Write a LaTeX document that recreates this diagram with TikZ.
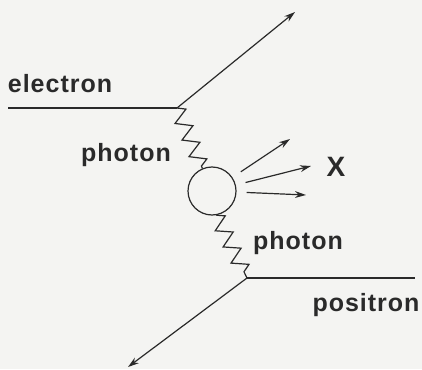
\documentclass[tikz,border=0pt]{standalone}
\usepackage{fontspec}
\setmainfont{Liberation Sans}[LetterSpace=4]
\usetikzlibrary{arrows.meta,decorations.pathmorphing}
\definecolor{ink}{HTML}{2A2A2A}
\definecolor{paper}{HTML}{F4F4F2}

\begin{document}
\begin{tikzpicture}[x=0.5pt,y=-0.5pt,line width=0.6pt,draw=ink,
    lbl/.style={text=ink,font=\bfseries\fontsize{12.5}{14}\selectfont,inner sep=0pt},
    blob/.style={draw=ink,circle,minimum size=24pt,inner sep=0pt},
    photon/.style={decorate,decoration={zigzag,segment length=9pt,amplitude=3.9pt}},
    tip/.style={-{Stealth[length=5.5pt,width=3.4pt]}}]
      \fill[paper] (0,0) rectangle (422,369);
      \coordinate (ein) at (8,108);
      \coordinate (v1) at (177,108);
      \coordinate (eout) at (295,12);
      \coordinate (v2) at (247,278);
      \coordinate (pin) at (415,278);
      \coordinate (pout) at (128,367);
      \node[blob] (loop) at (212,191) {};
      \coordinate (x1) at (290,139);
      \coordinate (x2) at (311,166);
      \coordinate (x3) at (306,195);
      \node[lbl] (el) at (60,84) {electron};
      \node[lbl] (ph1) at (126,155) {photon};
      \node[lbl] (ph2) at (298,243) {photon};
      \node[lbl] (po) at (366,305) {positron};
      \node[lbl,font=\bfseries\fontsize{14}{16}\selectfont] (xx) at (336,167) {X};
      % lepton lines
      \draw (ein) -- (v1);
      \draw[tip] (v1) -- (eout);
      \draw (v2) -- (pin);
      \draw[tip] (v2) -- (pout);
      % photons
      \draw[photon] (v1) -- (loop.113);
      \draw[photon] (loop.-80) -- (v2);
      % hadrons
      \foreach \p in {x1,x2,x3}
        \draw[tip,shorten <=5pt] (loop) -- (\p);
    \end{tikzpicture}
\end{document}
